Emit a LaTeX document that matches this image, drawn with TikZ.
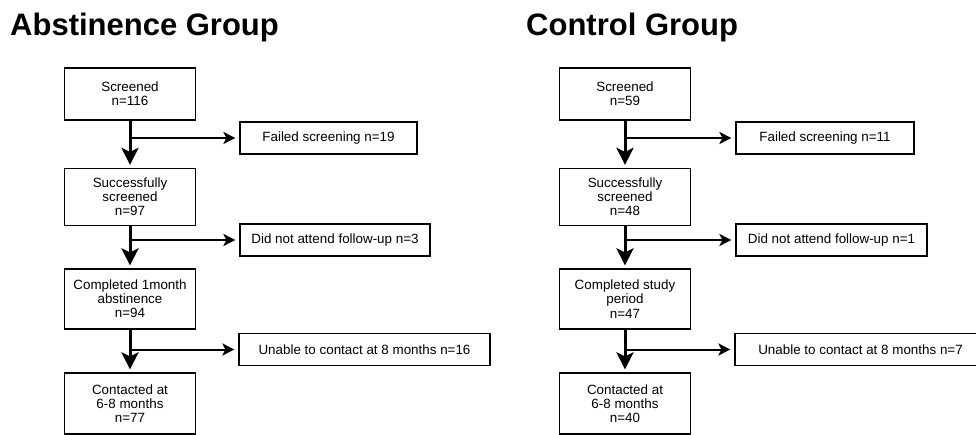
\documentclass[tikz,border=0pt]{standalone}
\usepackage{fontspec}
\setmainfont{Liberation Sans}
\usetikzlibrary{arrows.meta}

\begin{document}
\begin{tikzpicture}[x=1pt, y=-1pt,
            >={Stealth[length=17pt,width=17pt,inset=4pt]},
            mainbox/.style={draw, line width=1.2pt, align=center, minimum width=131pt, minimum height=59pt, inner sep=2pt, font=\fontsize{13.4}{14.2}\selectfont},
            sidebox/.style={draw, line width=1.2pt, minimum height=32pt, inner sep=2pt, font=\fontsize{13.4}{14.2}\selectfont},
            grouptitle/.style={anchor=base west, inner sep=0pt, font=\fontsize{31}{36}\selectfont\bfseries},
            trunk/.style={->, line width=3pt, shorten >=3pt},
            branch/.style={-{Stealth[length=12pt,width=12pt,inset=3pt]}, line width=2pt, shorten >=4pt}]
            \useasboundingbox (0,0) rectangle (976,435);

            % abstinence group
            \node[grouptitle] (abstitle) at (10,36) {Abstinence Group};
            \node[mainbox, minimum height=52pt] (absscr) at (130,94) {Screened\\n=116};
            \node[mainbox, minimum height=57pt] (abssucc) at (130,197) {Successfully\\screened\\n=97};
            \node[mainbox, minimum height=60pt] (abscomp) at (130,299) {Completed 1month\\abstinence\\n=94};
            \node[mainbox, minimum height=61pt] (abscont) at (130,403.5) {Contacted at\\6-8 months\\n=77};
            \node[sidebox, minimum width=177pt] (absfail) at (328.5,138) {Failed screening n=19};
            \node[sidebox, minimum width=190pt] (absdna) at (335,240) {Did not attend follow-up n=3};
            \node[sidebox, minimum width=251pt] (absunab) at (364.5,349.5) {Unable to contact at 8 months n=16};
            \draw[trunk] (absscr) -- (abssucc);
            \draw[trunk] (abssucc) -- (abscomp);
            \draw[trunk] (abscomp) -- (abscont);
            \draw[branch] (absscr.south |- absfail.west) -- (absfail.west);
            \draw[branch] (abssucc.south |- absdna.west) -- (absdna.west);
            \draw[branch] (abscomp.south |- absunab.west) -- (absunab.west);

            % control group
            \node[grouptitle] (contitle) at (526,36) {Control Group};
            \node[mainbox, minimum height=52pt] (conscr) at (625,94) {Screened\\n=59};
            \node[mainbox, minimum height=57pt] (consucc) at (625,197) {Successfully\\screened\\n=48};
            \node[mainbox, minimum height=60pt] (concomp) at (625,299) {Completed study\\period\\n=47};
            \node[mainbox, minimum height=61pt] (concont) at (625,403.5) {Contacted at\\6-8 months\\n=40};
            \node[sidebox, minimum width=178pt] (confail) at (825,138) {Failed screening n=11};
            \node[sidebox, minimum width=191pt] (condna) at (831.5,240) {Did not attend follow-up n=1};
            \node[sidebox, minimum width=251pt] (conunab) at (860.5,349.5) {Unable to contact at 8 months n=7};
            \draw[trunk] (conscr) -- (consucc);
            \draw[trunk] (consucc) -- (concomp);
            \draw[trunk] (concomp) -- (concont);
            \draw[branch] (conscr.south |- confail.west) -- (confail.west);
            \draw[branch] (consucc.south |- condna.west) -- (condna.west);
            \draw[branch] (concomp.south |- conunab.west) -- (conunab.west);
\end{tikzpicture}
\end{document}
